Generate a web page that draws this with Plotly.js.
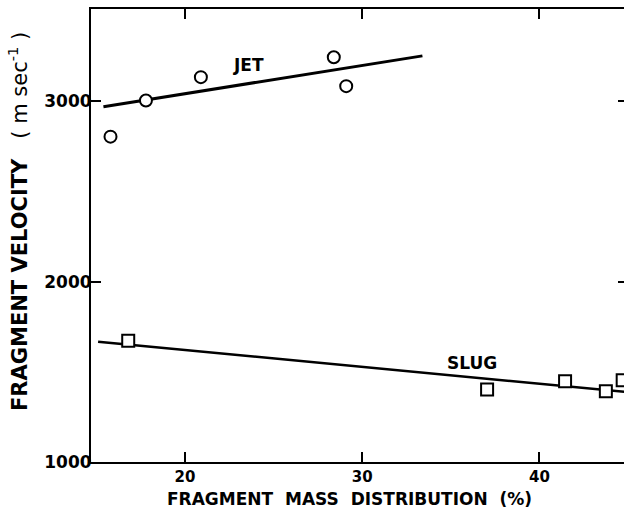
<!DOCTYPE html>
<html>
<head>
<meta charset="utf-8">
<script src="https://cdn.plot.ly/plotly-3.0.1.min.js"></script>
<style>
html, body { margin: 0; padding: 0; overflow: hidden; background: #fff; }
#chart { width: 640px; height: 516px; }
</style>
</head>
<body>
<div id="chart"></div>
<script>
// JET fragments (circles)
const jetX = [15.8, 17.8, 20.9, 28.4, 29.1];
const jetY = [2805, 3005, 3135, 3245, 3085];
// SLUG fragments (squares)
const slugX = [16.8, 37.05, 41.45, 43.75, 44.7];
const slugY = [1672, 1402, 1448, 1393, 1454];
// fitted lines (end points)
const jetFitX = [15.4, 33.4];
const jetFitY = [2971, 3253];
const slugFitX = [15.1, 45];
const slugFitY = [1667, 1387];
// axis ticks
const xTicks = [20, 30, 40];
const yTicks = [1000, 2000, 3000];
// labels
const seriesLabels = ["JET", "SLUG"];
const labelX = [23.6, 36.2];
const labelY = [3202, 1549];

const NB = "\u00A0";
const fontFam = "DejaVu Sans, Arial, sans-serif";

const traces = [
  { x: jetFitX, y: jetFitY, mode: "lines", line: { color: "#000", width: 3 }, hoverinfo: "skip" },
  { x: slugFitX, y: slugFitY, mode: "lines", line: { color: "#000", width: 2.5 }, hoverinfo: "skip" },
  { x: jetX, y: jetY, mode: "markers", name: "JET",
    marker: { symbol: "circle", size: 12, color: "#fff", line: { color: "#000", width: 2 } } },
  { x: slugX, y: slugY, mode: "markers", name: "SLUG",
    marker: { symbol: "square", size: 12, color: "#fff", line: { color: "#000", width: 2 } } }
];

const annotations = seriesLabels.map((t, i) => ({
  x: labelX[i], y: labelY[i], xref: "x", yref: "y", text: "<b>" + t + "</b>",
  showarrow: false, font: { family: fontFam, size: 17, color: "#000" }
}));
annotations.push({
  xref: "paper", yref: "paper", x: 0.482, y: -0.082, xanchor: "center", yanchor: "middle",
  text: "<b>FRAGMENT" + NB + NB + "MASS" + NB + NB + "DISTRIBUTION" + NB + NB + "(%)</b>",
  showarrow: false, font: { family: fontFam, size: 17, color: "#000" }
});
annotations.push({
  xref: "paper", yref: "paper", x: -0.136, y: 0.532, xanchor: "center", yanchor: "middle",
  textangle: -90,
  text: "<b>FRAGMENT" + NB + "VELOCITY</b>" + NB + NB + NB + "(" + NB + "m" + NB + "sec<sup>-1</sup>" + NB + ")",
  showarrow: false, font: { family: fontFam, size: 21, color: "#000" }
});

const layout = {
  width: 640, height: 516,
  margin: { l: 91, r: 11.5, t: 9, b: 54 },
  paper_bgcolor: "#fff", plot_bgcolor: "#fff",
  showlegend: false,
  font: { family: fontFam, color: "#000" },
  xaxis: {
    range: [14.7, 45], tickvals: xTicks, ticktext: xTicks.map(String),
    showgrid: false, zeroline: false, showline: true, linecolor: "#000", linewidth: 2,
    mirror: "ticks", ticks: "inside", ticklen: 10, tickwidth: 2, tickcolor: "#000",
    tickfont: { family: fontFam, size: 15, color: "#000", weight: "bold" },
    ticklabelstandoff: 0
  },
  yaxis: {
    range: [1000, 3513], tickvals: yTicks, ticktext: yTicks.map(String),
    showgrid: false, zeroline: false, showline: true, linecolor: "#000", linewidth: 2,
    mirror: "ticks", ticks: "inside", ticklen: 10, tickwidth: 2, tickcolor: "#000",
    tickfont: { family: fontFam, size: 17, color: "#000", weight: "bold" },
    ticklabelstandoff: -6
  },
  annotations: annotations
};

Plotly.newPlot("chart", traces, layout, { staticPlot: true, displayModeBar: false });
</script>
</body>
</html>
